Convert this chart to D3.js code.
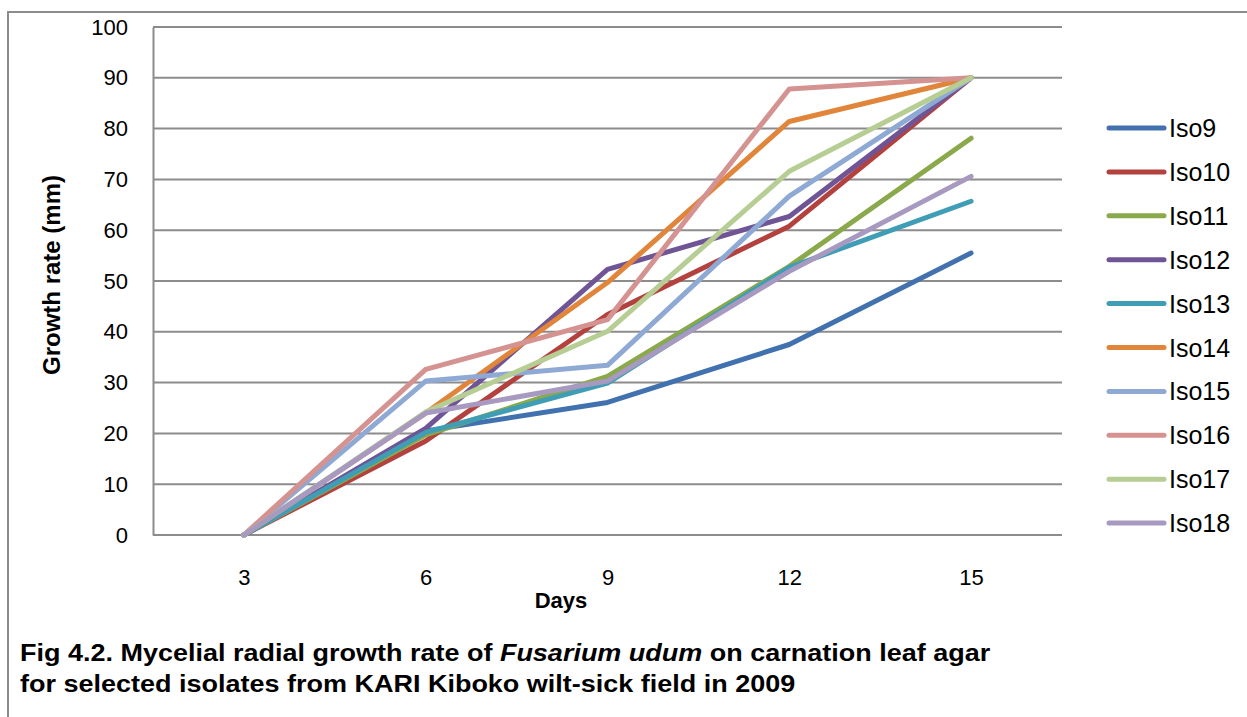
<!DOCTYPE html>
<html>
<head>
<meta charset="utf-8">
<script src="https://cdn.jsdelivr.net/npm/d3@7"></script>
<style>
  body { margin: 0; background: #fff; }
  svg { display: block; font-family: "Liberation Sans", Arial, sans-serif; }
</style>
</head>
<body>
<svg id="chart" width="1247" height="717"></svg>
<script>
const days = [3, 6, 9, 12, 15];
const yTicks = [0, 10, 20, 30, 40, 50, 60, 70, 80, 90, 100];
const isolates = ["Iso9", "Iso10", "Iso11", "Iso12", "Iso13", "Iso14", "Iso15", "Iso16", "Iso17", "Iso18"];
const colors = ["#4171ae", "#b3413e", "#89a94b", "#6f5595", "#3f9db6", "#e0853a", "#8ea9d3", "#d49290", "#b6cd93", "#a799c0"];

// growth (mm) per isolate, one value per day
const iso9  = [0, 20.5, 26.1, 37.5, 55.5];
const iso10 = [0, 18.5, 43.4, 60.8, 90];
const iso11 = [0, 19.7, 31.2, 52.9, 78.1];
const iso12 = [0, 21.0, 52.3, 62.7, 90];
const iso13 = [0, 20.2, 29.9, 52.7, 65.7];
const iso14 = [0, 24.0, 49.7, 81.4, 90];
const iso15 = [0, 30.3, 33.4, 66.7, 90];
const iso16 = [0, 32.6, 42.4, 87.8, 90];
const iso17 = [0, 24.2, 40.1, 71.6, 90];
const iso18 = [0, 24.0, 30.3, 51.9, 70.6];
const seriesValues = [iso9, iso10, iso11, iso12, iso13, iso14, iso15, iso16, iso17, iso18];

const plot = {left: 153, right: 1062, top: 27, bottom: 535};
const gridColor = "#8c8c8c";

const svg = d3.select("#chart");

// outer frame (runs off the right and bottom of the picture)
svg.append("path")
  .attr("d", "M8,717 V12 H1247")
  .attr("fill", "none")
  .attr("stroke", gridColor)
  .attr("stroke-width", 2);

const x = d3.scalePoint()
  .domain(days)
  .range([plot.left, plot.right])
  .padding(0.5);

const y = d3.scaleLinear()
  .domain([0, 100])
  .range([plot.bottom, plot.top]);

// gridlines
svg.append("g")
  .selectAll("line")
  .data(yTicks.filter(t => t > 0))
  .join("line")
  .attr("x1", plot.left)
  .attr("x2", plot.right)
  .attr("y1", d => y(d))
  .attr("y2", d => y(d))
  .attr("stroke", gridColor)
  .attr("stroke-width", 2);

const yAxis = d3.axisLeft(y).tickValues(yTicks).tickSize(0).tickPadding(25);
svg.append("g")
  .attr("transform", `translate(${plot.left},0)`)
  .call(yAxis)
  .call(g => g.select(".domain").attr("stroke", gridColor).attr("stroke-width", 2))
  .call(g => g.selectAll("text").attr("font-size", 22).attr("fill", "#000")
    .attr("font-family", "'Liberation Sans', Arial, sans-serif"));

const xAxis = d3.axisBottom(x).tickSize(0).tickPadding(34);
svg.append("g")
  .attr("transform", `translate(0,${plot.bottom})`)
  .call(xAxis)
  .call(g => g.select(".domain").attr("d", `M${plot.left},0H${plot.right}`)
    .attr("stroke", gridColor).attr("stroke-width", 2))
  .call(g => g.selectAll("text").attr("font-size", 22).attr("fill", "#000")
    .attr("font-family", "'Liberation Sans', Arial, sans-serif"));

// series lines
const line = d3.line()
  .x((d, i) => x(days[i]))
  .y(d => y(d));

svg.append("g")
  .selectAll("path")
  .data(seriesValues)
  .join("path")
  .attr("d", line)
  .attr("fill", "none")
  .attr("stroke", (d, i) => colors[i])
  .attr("stroke-width", 5)
  .attr("stroke-linecap", "round")
  .attr("stroke-linejoin", "round");

// legend
const legend = svg.append("g")
  .selectAll("g")
  .data(isolates)
  .join("g")
  .attr("transform", (d, i) => `translate(1109,${128 + i * 43.9})`);

legend.append("line")
  .attr("x1", 0)
  .attr("x2", 55)
  .attr("stroke", (d, i) => colors[i])
  .attr("stroke-width", 5)
  .attr("stroke-linecap", "round");

legend.append("text")
  .attr("x", 60)
  .attr("dy", "0.36em")
  .attr("font-size", 25)
  .text(d => d);

// axis titles
svg.append("text")
  .attr("transform", "translate(60,275) rotate(-90)")
  .attr("text-anchor", "middle")
  .attr("font-size", 24)
  .attr("font-weight", "bold")
  .text("Growth rate (mm)");

svg.append("text")
  .attr("x", 561)
  .attr("y", 608)
  .attr("text-anchor", "middle")
  .attr("font-size", 22)
  .attr("font-weight", "bold")
  .text("Days");

// caption, a bit wider than the plain font
const caption = svg.append("text")
  .attr("transform", "translate(20,0) scale(1.125,1)")
  .attr("font-size", 24)
  .attr("font-weight", "bold");

const line1 = caption.append("tspan").attr("x", 0).attr("y", 661);
line1.append("tspan").text("Fig 4.2. Mycelial radial growth rate of ");
line1.append("tspan").attr("font-style", "italic").text("Fusarium udum");
line1.append("tspan").text(" on carnation leaf agar");

caption.append("tspan")
  .attr("x", 0)
  .attr("y", 692)
  .text("for selected isolates from KARI Kiboko wilt-sick field in 2009");
</script>
</body>
</html>
